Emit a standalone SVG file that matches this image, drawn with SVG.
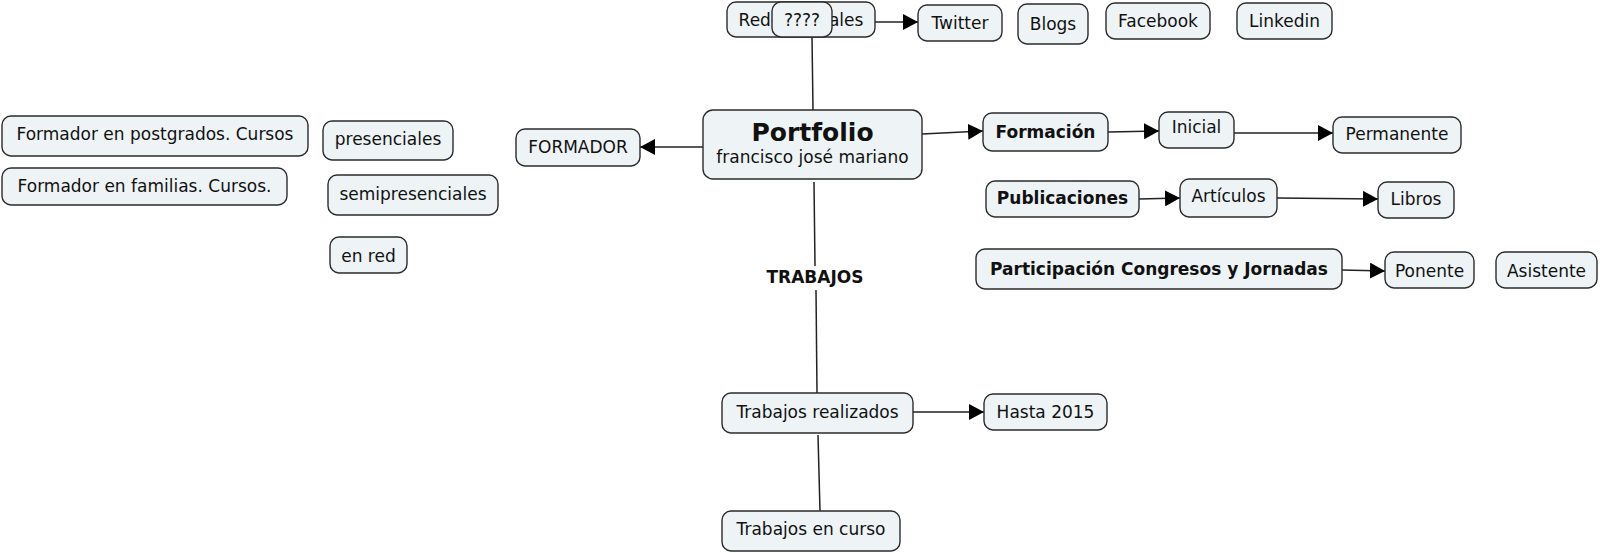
<svg xmlns="http://www.w3.org/2000/svg" width="1600" height="553" viewBox="0 0 1600 553">
<defs>
<style>
.n rect{fill:#eef4f6;stroke:#2b2b2b;stroke-width:1.4}
.n text{font-family:"DejaVu Sans",Verdana,sans-serif;font-size:17px;fill:#111;text-anchor:middle}
.n text.b{font-weight:bold}
.c line{stroke:#222;stroke-width:1.5;fill:none}
.c line.a{marker-end:url(#ah)}
.lbl{font-family:"DejaVu Sans",Verdana,sans-serif;font-size:17px;font-weight:bold;fill:#111;text-anchor:middle}
</style>
<marker id="ah" markerUnits="userSpaceOnUse" markerWidth="16" markerHeight="16" refX="15" refY="8" orient="auto">
<path d="M0,0 L15,8 L0,16 z" fill="#000"/>
</marker>
</defs>
<rect width="1600" height="553" fill="#fff"/>
<g id="connectors" class="c">
<line x1="812" y1="37" x2="813" y2="110"/>
<line class="a" x1="875" y1="22" x2="918" y2="22"/>
<line class="a" x1="703" y1="147" x2="640" y2="147"/>
<line class="a" x1="922" y1="134" x2="983" y2="131"/>
<line class="a" x1="1108" y1="132" x2="1159" y2="131"/>
<line class="a" x1="1234" y1="133" x2="1333" y2="133"/>
<line class="a" x1="1139" y1="199" x2="1180" y2="198"/>
<line class="a" x1="1277" y1="198" x2="1378" y2="199"/>
<line class="a" x1="1342" y1="270" x2="1385" y2="271"/>
<line x1="814" y1="182" x2="815" y2="266"/>
<line x1="816" y1="290" x2="817" y2="393"/>
<line class="a" x1="913" y1="412" x2="984" y2="412"/>
<line x1="818" y1="435" x2="820" y2="511"/>
<text class="lbl" x="815" y="283">TRABAJOS</text>
</g>
<g id="redes" class="n"><rect x="727" y="2" width="148" height="35" rx="9"/><text x="801" y="26">Redes sociales</text></g>
<g id="q" class="n"><rect x="772" y="2" width="60" height="35" rx="9"/><text x="802" y="26">????</text></g>
<g id="twitter" class="n"><rect x="918" y="5" width="84" height="36" rx="9"/><text x="960" y="29">Twitter</text></g>
<g id="blogs" class="n"><rect x="1018" y="4" width="70" height="40" rx="9"/><text x="1053" y="30">Blogs</text></g>
<g id="facebook" class="n"><rect x="1106" y="3" width="104" height="36" rx="9"/><text x="1158" y="27">Facebook</text></g>
<g id="linkedin" class="n"><rect x="1237" y="3" width="95" height="36" rx="9"/><text x="1284.5" y="27">Linkedin</text></g>
<g id="portfolio" class="n"><rect x="703" y="110" width="219" height="69" rx="10"/><text class="b" x="812.5" y="141" style="font-size:25px">Portfolio</text><text x="812.5" y="163">francisco josé mariano</text></g>
<g id="formador" class="n"><rect x="516" y="129" width="124" height="37" rx="9"/><text x="578" y="153">FORMADOR</text></g>
<g id="fpost" class="n"><rect x="2" y="116" width="306" height="40" rx="9"/><text x="155" y="140">Formador en postgrados. Cursos</text></g>
<g id="ffam" class="n"><rect x="2" y="168" width="285" height="37" rx="9"/><text x="144.5" y="192">Formador en familias. Cursos.</text></g>
<g id="presenciales" class="n"><rect x="323" y="121" width="130" height="39" rx="9"/><text x="388" y="145">presenciales</text></g>
<g id="semipresenciales" class="n"><rect x="328" y="175" width="170" height="40" rx="9"/><text x="413" y="200">semipresenciales</text></g>
<g id="enred" class="n"><rect x="330" y="237" width="77" height="36" rx="9"/><text x="368.5" y="262">en red</text></g>
<g id="formacion" class="n"><rect x="983" y="113" width="125" height="38" rx="9"/><text class="b" x="1045.5" y="138">Formación</text></g>
<g id="inicial" class="n"><rect x="1159" y="112" width="75" height="36" rx="9"/><text x="1196.5" y="133">Inicial</text></g>
<g id="permanente" class="n"><rect x="1333" y="117" width="128" height="36" rx="9"/><text x="1397" y="140">Permanente</text></g>
<g id="publicaciones" class="n"><rect x="986" y="181" width="153" height="36" rx="9"/><text class="b" x="1062.5" y="204">Publicaciones</text></g>
<g id="articulos" class="n"><rect x="1180" y="179" width="97" height="38" rx="9"/><text x="1228.5" y="202">Artículos</text></g>
<g id="libros" class="n"><rect x="1378" y="182" width="76" height="36" rx="9"/><text x="1416" y="205">Libros</text></g>
<g id="participacion" class="n"><rect x="976" y="249" width="366" height="40" rx="9"/><text class="b" x="1159" y="275">Participación Congresos y Jornadas</text></g>
<g id="ponente" class="n"><rect x="1385" y="252" width="89" height="36" rx="9"/><text x="1429.5" y="277">Ponente</text></g>
<g id="asistente" class="n"><rect x="1496" y="252" width="101" height="36" rx="9"/><text x="1546.5" y="277">Asistente</text></g>
<g id="trealizados" class="n"><rect x="722" y="393" width="191" height="40" rx="9"/><text x="817.5" y="418">Trabajos realizados</text></g>
<g id="hasta" class="n"><rect x="984" y="394" width="123" height="36" rx="9"/><text x="1045.5" y="418">Hasta 2015</text></g>
<g id="tcurso" class="n"><rect x="722" y="511" width="178" height="40" rx="9"/><text x="811" y="535">Trabajos en curso</text></g>
</svg>
